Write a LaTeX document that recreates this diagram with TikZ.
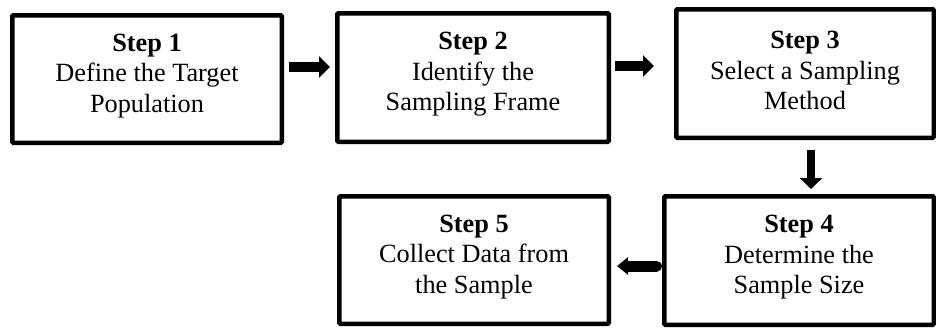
\documentclass[tikz,border=0pt]{standalone}
\usepackage{fontspec}
\setmainfont{Liberation Serif}
\usetikzlibrary{arrows.meta,calc}
\begin{document}
\begin{tikzpicture}[x=1pt,y=-1pt,
  stepbox/.style={draw=black, line width=4.5pt, fill=white, rounded corners=1pt, inner sep=0pt},
  steptext/.style={align=center, font=\fontsize{26.3}{30.5}\selectfont, inner sep=0pt},
  bigarrow/.style={line width=10pt, -{Triangle[length=11pt,width=21pt]}},
]
\useasboundingbox (0,0) rectangle (936,327);

\node (b1) [stepbox, minimum width=269.5pt, minimum height=127.5pt] at (147,79) {};
\node (b2) [stepbox, minimum width=271.5pt, minimum height=128.5pt] at (473,77.5) {};
\node (b3) [stepbox, minimum width=257.5pt, minimum height=128.5pt] at (805,73.5) {};
\node (b4) [stepbox, minimum width=269.5pt, minimum height=128.5pt] at (799,260.5) {};
\node (b5) [stepbox, minimum width=269.5pt, minimum height=127.5pt] at (474,260) {};

\node (t1) [steptext] at ([yshift=3pt]b1.center) {\textbf{Step 1}\\Define the Target\\Population};
\node (t2) [steptext] at ([yshift=3pt]b2.center) {\textbf{Step 2}\\Identify the\\Sampling Frame};
\node (t3) [steptext] at ([yshift=3pt]b3.center) {\textbf{Step 3}\\Select a Sampling\\Method};
\node (t4) [steptext] at ([yshift=3pt]b4.center) {\textbf{Step 4}\\Determine the\\Sample Size};
\node (t5) [steptext] at ([yshift=3pt]b5.center) {\textbf{Step 5}\\Collect Data from\\the Sample};

\draw[bigarrow, shorten <=5pt, shorten >=5pt]
  ([yshift=12pt]b1.east) -- ([yshift=12pt]b1.east -| b2.west);
\draw[bigarrow, shorten <=4pt, shorten >=20pt]
  ([yshift=11.5pt]b2.east) -- ([yshift=11.5pt]b2.east -| b3.west);
\draw[line width=8pt, -{Triangle[length=11pt,width=22pt]}, shorten <=10pt, shorten >=5pt]
  ([xshift=6pt]b3.south) -- ([xshift=6pt]b3.south |- b4.north);
\draw[line width=11pt, line cap=round, -{Triangle[length=11pt,width=17pt]}, shorten <=5.5pt, shorten >=6pt]
  ([yshift=-5.5pt]b4.west) -- ([yshift=-5.5pt]b4.west -| b5.east);
\end{tikzpicture}
\end{document}
